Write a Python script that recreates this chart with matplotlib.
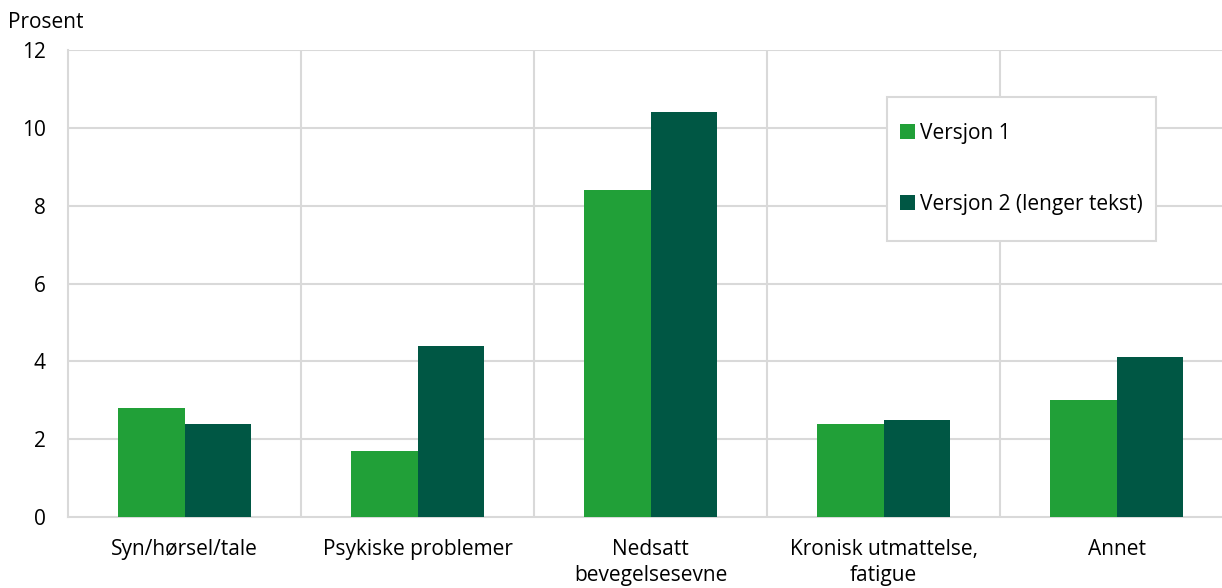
import numpy as np
import matplotlib.pyplot as plt
from matplotlib.patches import Rectangle

plt.rcParams['font.family'] = ['Open Sans', 'DejaVu Sans']

categories = ['Syn/hørsel/tale', 'Psykiske problemer', 'Nedsatt\nbevegelsesevne',
              'Kronisk utmattelse,\nfatigue', 'Annet']
versjon1 = [2.8, 1.7, 8.4, 2.4, 3.0]
versjon2 = [2.4, 4.4, 10.4, 2.5, 4.1]
labels = ['Versjon 1', 'Versjon 2 (lenger tekst)']
colors = ['#21a038', '#005744']
grid_col = '#d9d9d9'
fs = 15

fig = plt.figure(figsize=(12.22, 5.88), dpi=100)
ax = fig.add_axes([68 / 1222, 71 / 588, 1 - 68 / 1222, 467 / 588])

x = np.arange(len(categories))
w = 0.2875
ax.bar(x - w / 2, versjon1, width=w, color=colors[0], label=labels[0], zorder=3)
ax.bar(x + w / 2, versjon2, width=w, color=colors[1], label=labels[1], zorder=3)

ax.set_xlim(-0.5, -0.5 + (1222 - 68) / 233)
ax.set_ylim(0, 12)
ax.set_yticks(range(0, 13, 2))
ax.set_xticks(x)
ax.set_xticklabels(categories, fontsize=fs, linespacing=1.3)
ax.tick_params(axis='y', labelsize=fs, length=0, pad=16)
ax.tick_params(axis='x', length=0, pad=16)

# grid: horizontal lines at ticks, vertical lines between categories
for yv in range(2, 13, 2):
    ax.axhline(yv, color=grid_col, lw=1.5, zorder=1)
for xv in np.arange(0.5, len(categories) - 0.5, 1):
    ax.axvline(xv, color=grid_col, lw=1.5, zorder=1)

for s in ['top', 'right']:
    ax.spines[s].set_visible(False)
for s in ['left', 'bottom']:
    ax.spines[s].set_color(grid_col)
    ax.spines[s].set_linewidth(1.5)
    ax.spines[s].set_zorder(2)

fig.text(8 / 1222, 1 - 22 / 588, 'Prosent', fontsize=fs, va='center', ha='left')

# legend box drawn separately so the padding can differ per direction
bx0, by0, bx1, by1 = 887, 97, 1156, 241
ax.add_patch(Rectangle((bx0 / 1222, 1 - by1 / 588), (bx1 - bx0) / 1222,
                       (by1 - by0) / 588, transform=fig.transFigure,
                       facecolor='white', edgecolor=grid_col, lw=1.5,
                       zorder=5, clip_on=False))
leg = ax.legend(loc='center', bbox_to_anchor=((bx0 + bx1) / 2 / 1222, 1 - (by0 + by1) / 2 / 588),
                bbox_transform=fig.transFigure, fontsize=fs, frameon=False,
                handlelength=0.7, handleheight=0.7, handletextpad=0.25,
                labelspacing=2.4, borderpad=0, borderaxespad=0)
leg.set_zorder(6)

fig.savefig('out.png', dpi=100)
